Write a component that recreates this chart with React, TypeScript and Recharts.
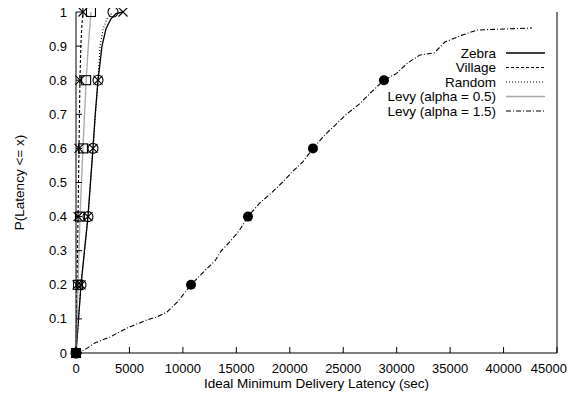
import React from 'react';
import { ComposedChart, Line, XAxis, YAxis, Legend } from 'recharts';

const FONT = '"Liberation Sans", Arial, Helvetica, sans-serif';

// ---- axis ticks ----
const xTicks = [0, 5000, 10000, 15000, 20000, 25000, 30000, 35000, 40000, 45000];
const yTicks = [0, 0.1, 0.2, 0.3, 0.4, 0.5, 0.6, 0.7, 0.8, 0.9, 1];

// ---- series names ----
const seriesNames = ['Zebra', 'Village', 'Random', 'Levy (alpha = 0.5)', 'Levy (alpha = 1.5)'];

// ---- CDF curves (x = latency sec, y = probability) ----
const zebraX = [0, 470, 1120, 1590, 1800, 2060, 2430, 2800, 3270, 3740, 4400];
const zebraY = [0, 0.2, 0.4, 0.6, 0.7, 0.8, 0.9, 0.95, 0.98, 0.995, 1];

const villageX = [0, 100, 190, 280, 370, 450, 530, 650];
const villageY = [0, 0.2, 0.4, 0.6, 0.8, 0.9, 0.95, 1];

const randomX = [0, 470, 1120, 1590, 2060, 2250, 2530, 2900, 3460];
const randomY = [0, 0.2, 0.4, 0.6, 0.8, 0.9, 0.95, 0.98, 1];

const levy05X = [0, 190, 375, 650, 950, 1150, 1400];
const levy05Y = [0, 0.2, 0.4, 0.6, 0.8, 0.9, 1];

const levy15X = [0, 840, 1800, 3180, 4770, 6640, 7500, 8510, 9500, 10760, 12000, 13000, 13600, 14500, 15300, 16090, 17200, 18300, 19300, 20200, 21200, 22170, 23300, 24300, 25300, 26500, 27800, 28810, 30000, 31000, 32180, 33500, 34520, 36200, 37500, 40000, 42660];
const levy15Y = [0, 0.01, 0.03, 0.047, 0.073, 0.097, 0.105, 0.12, 0.15, 0.2, 0.24, 0.27, 0.3, 0.33, 0.36, 0.4, 0.44, 0.47, 0.5, 0.53, 0.56, 0.6, 0.64, 0.67, 0.7, 0.73, 0.77, 0.8, 0.82, 0.85, 0.874, 0.88, 0.912, 0.933, 0.947, 0.95, 0.953];

// ---- marker points ----
const markLevels = [0, 0.2, 0.4, 0.6, 0.8, 1];
const zebraMarkX = [0, 470, 1120, 1590, 2060, 4400];
const villageMarkX = [0, 100, 190, 280, 370, 650];
const randomMarkX = [0, 470, 1120, 1590, 2060, 3460];
const levy05MarkX = [0, 190, 375, 650, 950, 1400];
const levy15MarkX = [0, 10760, 16090, 22170, 28810];

const toPts = (xs: number[], ys: number[]) => xs.map((x, i) => ({ x, y: ys[i] }));

const zebraData = toPts(zebraX, zebraY);
const villageData = toPts(villageX, villageY);
const randomData = toPts(randomX, randomY);
const levy05Data = toPts(levy05X, levy05Y);
const levy15Data = toPts(levy15X, levy15Y);

const zebraMarks = toPts(zebraMarkX, markLevels);
const villageMarks = toPts(villageMarkX, markLevels);
const randomMarks = toPts(randomMarkX, markLevels);
const levy05Marks = toPts(levy05MarkX, markLevels);
const levy15Marks = toPts(levy15MarkX, markLevels);

const GRAY = '#a8a8a8';

const styles = [
  { stroke: '#000', dash: undefined as string | undefined, width: 1.3 },
  { stroke: '#000', dash: '3 2', width: 1.1 },
  { stroke: '#000', dash: '1 2', width: 1.1 },
  { stroke: GRAY, dash: undefined, width: 1.3 },
  { stroke: '#000', dash: '5 2 1 2', width: 1.1 },
];

// ---- marker shapes ----
const crossDot = (p: any) => {
  const { cx, cy, index } = p;
  if (cx == null || cy == null) return <g key={`zc${index}`} />;
  const s = 4.5;
  return (
    <g key={`zc${index}`} stroke="#000" strokeWidth={1.1}>
      <line x1={cx - s} y1={cy - s} x2={cx + s} y2={cy + s} />
      <line x1={cx - s} y1={cy + s} x2={cx + s} y2={cy - s} />
    </g>
  );
};
const starDot = (p: any) => {
  const { cx, cy, index } = p;
  if (cx == null || cy == null) return <g key={`vs${index}`} />;
  const s = 4.5;
  return (
    <g key={`vs${index}`} stroke="#000" strokeWidth={1.1}>
      <line x1={cx - s} y1={cy - s} x2={cx + s} y2={cy + s} />
      <line x1={cx - s} y1={cy + s} x2={cx + s} y2={cy - s} />
      <line x1={cx} y1={cy - s - 1} x2={cx} y2={cy + s + 1} />
    </g>
  );
};
const circleDot = (p: any) => {
  const { cx, cy, index } = p;
  if (cx == null || cy == null) return <g key={`rc${index}`} />;
  return <circle key={`rc${index}`} cx={cx} cy={cy} r={5} fill="none" stroke="#000" strokeWidth={1.1} />;
};
const squareDot = (p: any) => {
  const { cx, cy, index } = p;
  if (cx == null || cy == null) return <g key={`ls${index}`} />;
  const s = 4.5;
  return <rect key={`ls${index}`} x={cx - s} y={cy - s} width={2 * s} height={2 * s} fill="none" stroke="#000" strokeWidth={1.1} />;
};
const filledDot = (p: any) => {
  const { cx, cy, index } = p;
  if (cx == null || cy == null) return <g key={`lf${index}`} />;
  if (index === 0) {
    return <rect key={`lf${index}`} x={cx - 5} y={cy - 5} width={10} height={10} fill="#000" />;
  }
  return <circle key={`lf${index}`} cx={cx} cy={cy} r={5} fill="#000" />;
};

// ---- ticks ----
const BottomTick = (p: any) => {
  const { x, y, payload } = p;
  const last = payload.value === xTicks[xTicks.length - 1];
  return (
    <g>
      <line x1={x} y1={y} x2={x} y2={y - 6} stroke="#000" />
      <text
        x={last ? x + 10 : x}
        y={y + 15}
        textAnchor={last ? 'end' : 'middle'}
        dominantBaseline="central"
        fontSize={13}
        fontFamily={FONT}
        fill="#000"
      >
        {String(payload.value)}
      </text>
    </g>
  );
};
const TopTick = (p: any) => {
  const { x, y } = p;
  return <line x1={x} y1={y} x2={x} y2={y + 6} stroke="#000" />;
};
const LeftTick = (p: any) => {
  const { x, y, payload } = p;
  return (
    <g>
      <line x1={x} y1={y} x2={x + 6} y2={y} stroke="#000" />
      <text x={x - 9} y={y} textAnchor="end" dominantBaseline="central" fontSize={13} fontFamily={FONT} fill="#000">
        {String(payload.value)}
      </text>
    </g>
  );
};
const RightTick = (p: any) => {
  const { x, y } = p;
  return <line x1={x} y1={y} x2={x - 6} y2={y} stroke="#000" />;
};

const LegendBox = () => (
  <svg width={567} height={120} style={{ display: 'block' }}>
    {seriesNames.map((name, i) => {
      const y = 45 + i * 14.5;
      const st = styles[i];
      return (
        <g key={name}>
          <text x={488} y={y} textAnchor="end" dominantBaseline="central" fontSize={13.5} fontFamily={FONT} fill="#000">
            {name}
          </text>
          <line x1={498} y1={y} x2={537} y2={y} stroke={st.stroke} strokeWidth={st.width} strokeDasharray={st.dash} />
        </g>
      );
    })}
  </svg>
);

export default function App() {
  const series = [zebraData, villageData, randomData, levy05Data, levy15Data];
  return (
    <div style={{ width: 567, height: 384, position: 'relative' }}>
      <style>{'.recharts-surface{overflow:visible !important;} .recharts-wrapper{overflow:visible !important;}'}</style>
      <ComposedChart width={567} height={384} margin={{ top: 4, right: 17, bottom: 0, left: 0 }}>
        <XAxis
          dataKey="x"
          type="number"
          domain={[0, 45000]}
          ticks={xTicks}
          interval={0}
          tickSize={0}
          tickMargin={0}
          tickLine={false}
          height={39}
          stroke="#000"
          allowDataOverflow={false}
          tick={BottomTick}
          label={{
            content: (lp: any) => {
              const vb = lp.viewBox || { x: 68, y: 345, width: 481 };
              return (
                <text x={vb.x + vb.width / 2} y={vb.y + 30} textAnchor="middle" dominantBaseline="central" fontSize={13.5} fontFamily={FONT} fill="#000">
                  Ideal Minimum Delivery Latency (sec)
                </text>
              );
            },
          }}
        />
        <XAxis
          xAxisId="top"
          orientation="top"
          dataKey="x"
          type="number"
          domain={[0, 45000]}
          ticks={xTicks}
          interval={0}
          tickSize={0}
          tickMargin={0}
          tickLine={false}
          height={0}
          stroke="#000"
          tick={TopTick}
        />
        <YAxis
          type="number"
          domain={[0, 1]}
          ticks={yTicks}
          interval={0}
          tickSize={0}
          tickMargin={0}
          tickLine={false}
          width={68}
          stroke="#000"
          tick={LeftTick}
          label={{
            content: (lp: any) => {
              const vb = lp.viewBox || { x: 0, y: 4, height: 341 };
              const cx = vb.x + 11;
              const cy = vb.y + vb.height / 2;
              return (
                <text x={cx} y={cy} transform={`rotate(-90 ${cx} ${cy})`} textAnchor="middle" dominantBaseline="central" fontSize={13.5} fontFamily={FONT} fill="#000">
                  {'P(Latency <= x)'}
                </text>
              );
            },
          }}
        />
        <YAxis
          yAxisId="right"
          orientation="right"
          type="number"
          domain={[0, 1]}
          ticks={yTicks}
          interval={0}
          tickSize={0}
          tickMargin={0}
          tickLine={false}
          width={1}
          stroke="#000"
          tick={RightTick}
        />
        <Legend
          layout="vertical"
          align="center"
          verticalAlign="middle"
          content={() => <LegendBox />}
          wrapperStyle={{ left: 0, top: 0, width: 567, height: 120, pointerEvents: 'none' }}
        />
        {series.map((d, i) => (
          <Line
            key={seriesNames[i]}
            name={seriesNames[i]}
            data={d}
            dataKey="y"
            type="linear"
            stroke={styles[i].stroke}
            strokeWidth={styles[i].width}
            strokeDasharray={styles[i].dash}
            dot={false}
            activeDot={false}
            isAnimationActive={false}
          />
        ))}
        <Line name="m-levy05" data={levy05Marks} dataKey="y" stroke="none" dot={squareDot} activeDot={false} legendType="none" isAnimationActive={false} />
        <Line name="m-random" data={randomMarks} dataKey="y" stroke="none" dot={circleDot} activeDot={false} legendType="none" isAnimationActive={false} />
        <Line name="m-zebra" data={zebraMarks} dataKey="y" stroke="none" dot={crossDot} activeDot={false} legendType="none" isAnimationActive={false} />
        <Line name="m-village" data={villageMarks} dataKey="y" stroke="none" dot={starDot} activeDot={false} legendType="none" isAnimationActive={false} />
        <Line name="m-levy15" data={levy15Marks} dataKey="y" stroke="none" dot={filledDot} activeDot={false} legendType="none" isAnimationActive={false} />
      </ComposedChart>
    </div>
  );
}
